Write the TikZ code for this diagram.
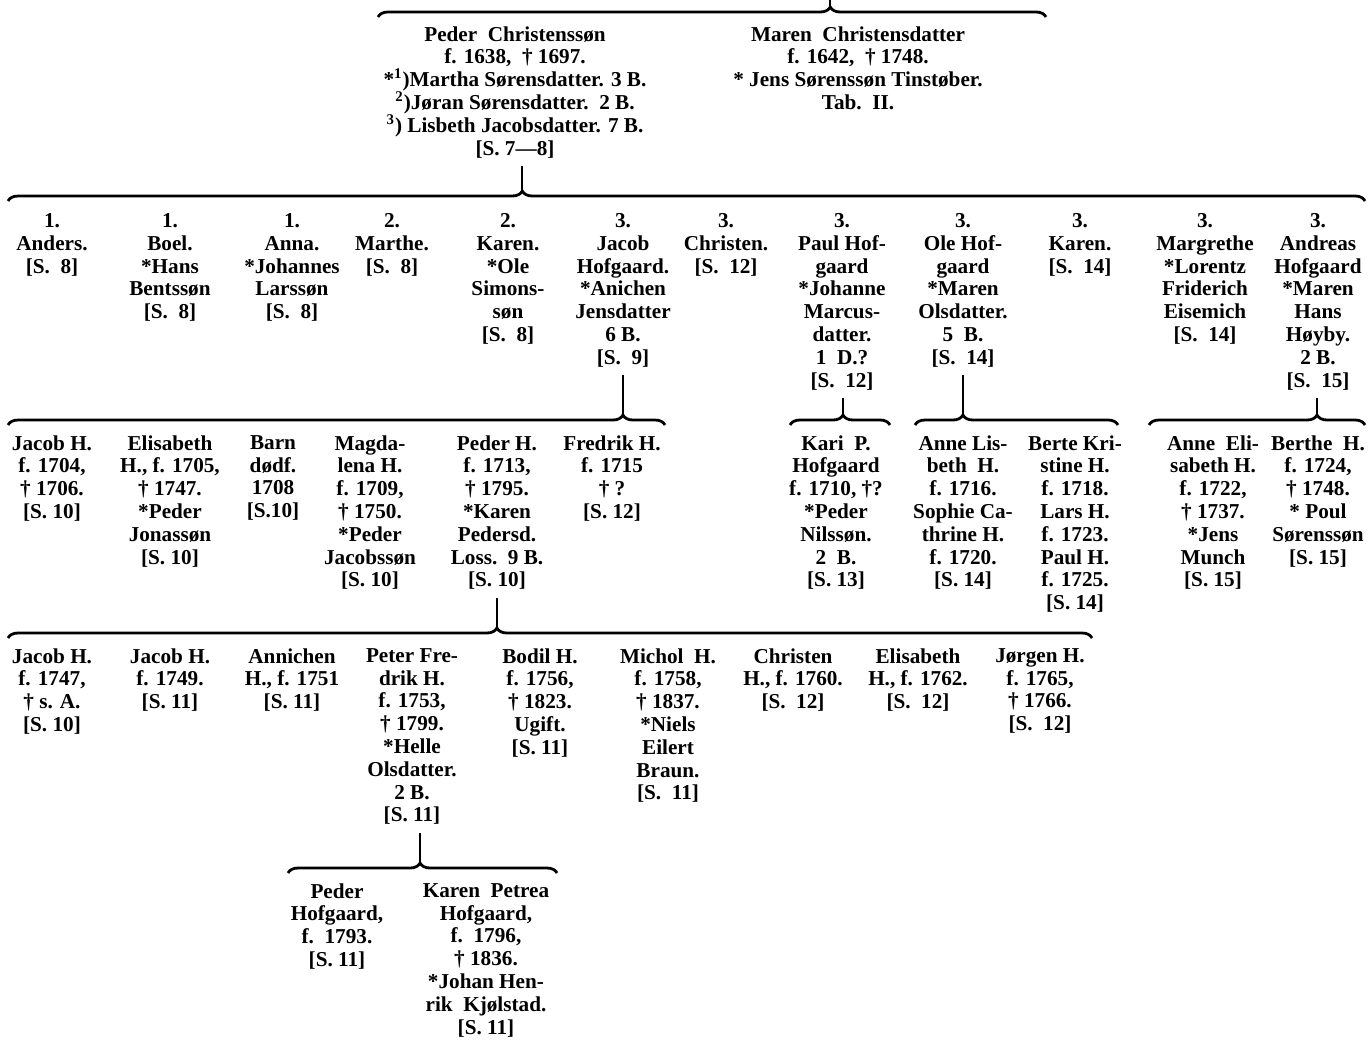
\documentclass[tikz,border=0pt]{standalone}
\usepackage{fontspec}
\setmainfont{Liberation Serif}
\usepackage{tikz}
\usetikzlibrary{decorations.pathreplacing}
\tikzstyle{person} = [align=center, inner sep=0pt, anchor=north, font=\fontsize{10.6}{11.4}\selectfont\bfseries]
\tikzstyle{stem} = [line width=1.4pt]
\tikzset{family/.style={line width=1.4pt, decorate, decoration={brace, amplitude=5pt, aspect=#1}}}

\begin{document}
\begin{tikzpicture}[x=0.5pt, y=-0.5pt]
\useasboundingbox (0,0) rectangle (1370,1039);

% parents
\coordinate (top) at (830,0);
\node (peder) [person] at (515,26) {Peder\ \ Christenssøn\\f. 1638,\ \ † 1697.\\*\textsuperscript{1})Martha Sørensdatter. 3 B.\\\textsuperscript{2})Jøran Sørensdatter.\ \ 2 B.\\\textsuperscript{3}) Lisbeth Jacobsdatter. 7 B.\\{[S. 7—8]}};
\node (maren) [person] at (858,26) {Maren\ \ Christensdatter\\f. 1642,\ \ † 1748.\\* Jens Sørenssøn Tinstøber.\\Tab.\ \ II.};
\coordinate (l0) at (378,17);
\coordinate (r0) at (1046,17);
\coordinate (t0) at (830,7);
\draw [family=0.677] (l0) -- (r0);
\draw [stem] (top) -- (t0);

% children of Peder
\coordinate (l1) at (8,201);
\coordinate (r1) at (1365,201);
\coordinate (t1) at (522,191);
\draw [family=0.379] (l1) -- (r1);
\draw [stem] (peder.south -| t1) ++(0,8) -- (t1);

\node (anders) [person] at (52,213) {1.\\Anders.\\{[S.\ \ 8]}};
\node (boel) [person] at (170,213) {1.\\Boel.\\*Hans\\Bentssøn\\{[S.\ \ 8]}};
\node (anna) [person] at (292,213) {1.\\Anna.\\*Johannes\\Larssøn\\{[S.\ \ 8]}};
\node (marthe) [person] at (392,213) {2.\\Marthe.\\{[S.\ \ 8]}};
\node (karen) [person] at (508,213) {2.\\Karen.\\*Ole\\Simons-\\søn\\{[S.\ \ 8]}};
\node (jacob) [person] at (623,213) {3.\\Jacob\\Hofgaard.\\*Anichen\\Jensdatter\\6 B.\\{[S.\ \ 9]}};
\node (christen) [person] at (726,213) {3.\\Christen.\\{[S.\ \ 12]}};
\node (paul) [person] at (842,213) {3.\\Paul Hof-\\gaard\\*Johanne\\Marcus-\\datter.\\1\ \ D.?\\{[S.\ \ 12]}};
\node (ole) [person] at (963,213) {3.\\Ole Hof-\\gaard\\*Maren\\Olsdatter.\\5\ \ B.\\{[S.\ \ 14]}};
\node (karen2) [person] at (1080,213) {3.\\Karen.\\{[S.\ \ 14]}};
\node (margrethe) [person] at (1205,213) {3.\\Margrethe\\*Lorentz\\Friderich\\Eisemich\\{[S.\ \ 14]}};
\node (andreas) [person] at (1318,213) {3.\\Andreas\\Hofgaard\\*Maren\\Hans\\Høyby.\\2 B.\\{[S.\ \ 15]}};

% children of Jacob
\coordinate (l2) at (8,425);
\coordinate (r2) at (665,425);
\coordinate (t2) at (623,415);
\draw [family=0.936] (l2) -- (r2);
\draw [stem] (jacob.south -| t2) ++(0,8) -- (t2);

\node (jacobh) [person] at (52,435) {Jacob H.\\f. 1704,\\† 1706.\\{[S. 10]}};
\node (elisabeth) [person] at (170,435) {Elisabeth\\H., f. 1705,\\† 1747.\\*Peder\\Jonassøn\\{[S. 10]}};
\node (barn) [person] at (273,435) {Barn\\dødf.\\1708\\{[S.10]}};
\node (magdalena) [person] at (370,435) {Magda-\\lena H.\\f. 1709,\\† 1750.\\*Peder\\Jacobssøn\\{[S. 10]}};
\node (pederh) [person] at (497,435) {Peder H.\\f. 1713,\\† 1795.\\*Karen\\Pedersd.\\Loss.\ \ 9 B.\\{[S. 10]}};
\node (fredrik) [person] at (612,435) {Fredrik H.\\f. 1715\\† ?\\{[S. 12]}};

% child of Paul
\coordinate (l3) at (790,425);
\coordinate (r3) at (890,425);
\coordinate (t3) at (843,415);
\draw [family=0.53] (l3) -- (r3);
\draw [stem] (paul.south -| t3) ++(0,8) -- (t3);

\node (kari) [person] at (836,435) {Kari\ \ P.\\Hofgaard\\f. 1710, †?\\*Peder\\Nilssøn.\\2\ \ B.\\{[S. 13]}};

% children of Ole
\coordinate (l4) at (915,425);
\coordinate (r4) at (1118,425);
\coordinate (t4) at (963,415);
\draw [family=0.236] (l4) -- (r4);
\draw [stem] (ole.south -| t4) ++(0,8) -- (t4);

\node (annelis) [person] at (963,435) {Anne Lis-\\beth\ \ H.\\f. 1716.\\Sophie Ca-\\thrine H.\\f. 1720.\\{[S. 14]}};
\node (berte) [person] at (1075,435) {Berte Kri-\\stine H.\\f. 1718.\\Lars H.\\f. 1723.\\Paul H.\\f. 1725.\\{[S. 14]}};

% children of Andreas
\coordinate (l5) at (1149,425);
\coordinate (r5) at (1365,425);
\coordinate (t5) at (1317,415);
\draw [family=0.778] (l5) -- (r5);
\draw [stem] (andreas.south -| t5) ++(0,8) -- (t5);

\node (anneeli) [person] at (1213,435) {Anne\ \ Eli-\\sabeth H.\\f. 1722,\\† 1737.\\*Jens\\Munch\\{[S. 15]}};
\node (berthe) [person] at (1318,435) {Berthe\ \ H.\\f. 1724,\\† 1748.\\* Poul\\Sørenssøn\\{[S. 15]}};

% children of Peder H.
\coordinate (l6) at (8,638);
\coordinate (r6) at (1092,638);
\coordinate (t6) at (497,628);
\draw [family=0.451] (l6) -- (r6);
\draw [stem] (pederh.south -| t6) ++(0,8) -- (t6);

\node (jacob1) [person] at (52,648) {Jacob H.\\f. 1747,\\† s. A.\\{[S. 10]}};
\node (jacob2) [person] at (170,648) {Jacob H.\\f. 1749.\\{[S. 11]}};
\node (annichen) [person] at (292,648) {Annichen\\H., f. 1751\\{[S. 11]}};
\node (peter) [person] at (412,648) {Peter Fre-\\drik H.\\f. 1753,\\† 1799.\\*Helle\\Olsdatter.\\2 B.\\{[S. 11]}};
\node (bodil) [person] at (540,648) {Bodil H.\\f. 1756,\\† 1823.\\Ugift.\\{[S. 11]}};
\node (michol) [person] at (668,648) {Michol\ \ H.\\f. 1758,\\† 1837.\\*Niels\\Eilert\\Braun.\\{[S.\ \ 11]}};
\node (christenh) [person] at (793,648) {Christen\\H., f. 1760.\\{[S.\ \ 12]}};
\node (elisabethh) [person] at (918,648) {Elisabeth\\H., f. 1762.\\{[S.\ \ 12]}};
\node (jorgen) [person] at (1040,648) {Jørgen H.\\f. 1765,\\† 1766.\\{[S.\ \ 12]}};

% children of Peter Fredrik
\coordinate (l7) at (288,873);
\coordinate (r7) at (557,873);
\coordinate (t7) at (420,863);
\draw [family=0.491] (l7) -- (r7);
\draw [stem] (peter.south -| t7) ++(0,8) -- (t7);

\node (pederhof) [person] at (337,883) {Peder\\Hofgaard,\\f.\ \ 1793.\\{[S. 11]}};
\node (karenpetrea) [person] at (486,883) {Karen\ \ Petrea\\Hofgaard,\\f.\ \ 1796,\\† 1836.\\*Johan Hen-\\rik\ \ Kjølstad.\\{[S. 11]}};
\end{tikzpicture}
\end{document}
